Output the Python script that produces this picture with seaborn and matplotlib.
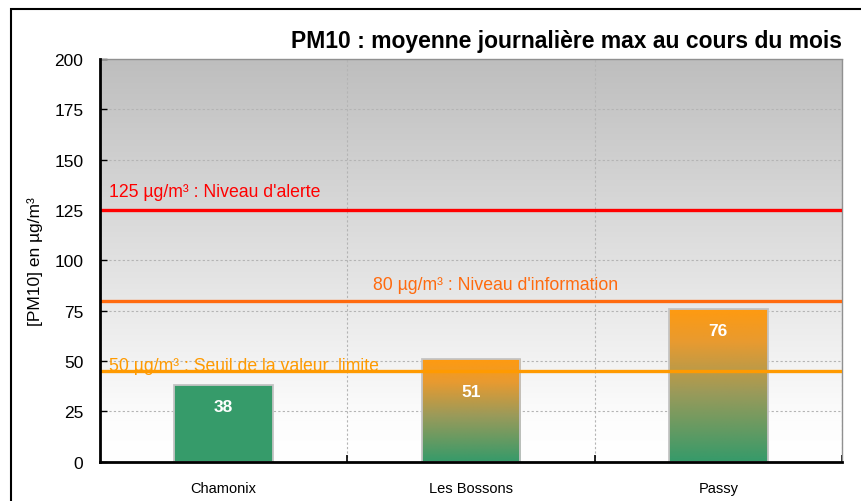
import numpy as np
import matplotlib
matplotlib.use("Agg")
import matplotlib.pyplot as plt
import seaborn as sns
import pandas as pd
from matplotlib.colors import LinearSegmentedColormap
from matplotlib.patches import Rectangle

# ---- data ----
stations = ["Chamonix", "Les Bossons", "Passy"]
values = [38, 51, 76]
threshold_values = [125, 80, 45]
threshold_labels = ["125 µg/m³ : Niveau d'alerte",
                    "80 µg/m³ : Niveau d'information",
                    "50 µg/m³ : Seuil de la valeur  limite"]
limit_value = 50
title = "PM10 : moyenne journalière max au cours du mois"
ylabel = "[PM10] en µg/m³"
yticks = list(range(0, 201, 25))

# ---- style ----
sns.set_style("white")
plt.rcParams['font.family'] = ['Liberation Sans', 'DejaVu Sans']
plt.rcParams['text.color'] = 'black'
plt.rcParams['axes.labelcolor'] = 'black'
plt.rcParams['xtick.color'] = 'black'
plt.rcParams['ytick.color'] = 'black'

threshold_colors = ["#ff0000", "#ff6a0e", "#ff9a00"]
label_x = [0.012, 0.3675, 0.012]
label_dy = [13, 11.3, 4]
green = "#369b6a"

fig = plt.figure(figsize=(8.61, 5.02), dpi=100)
ax = fig.add_axes([100 / 861, 1 - 462.7 / 502, 742 / 861, (462.7 - 60) / 502])

df = pd.DataFrame({"station": stations, "value": values})
sns.barplot(data=df, x="station", y="value", color=green, width=0.4,
            edgecolor="#c4c4c4", linewidth=1.3, saturation=1, errorbar=None,
            ax=ax, zorder=2)

# background gradient
grad = np.linspace(0, 1, 256).reshape(-1, 1)
ax.imshow(grad, extent=[-0.5, 2.5, 0, 200], aspect="auto", origin="lower",
          cmap=LinearSegmentedColormap.from_list("bg", [(0, "#ffffff"), (0.1, "#fdfdfd"), (1, "#bebebe")]),
          zorder=0)

# bar gradients
bar_cmap = LinearSegmentedColormap.from_list(
    "bar", [(0, "#359a6a"), (0.45, "#9a9a5a"), (0.78, "#e89a30"), (1, "#ff9a10")])
for patch, v in zip(ax.patches, values):
    patch.set_zorder(2)
    if v > limit_value:
        x0 = patch.get_x()
        w = patch.get_width()
        im = ax.imshow(grad, extent=[x0, x0 + w, 0, v], aspect="auto", origin="lower",
                       cmap=bar_cmap, zorder=1.9)
        im.set_clip_path(patch)
        patch.set_facecolor("none")

# threshold lines and labels
for tv, tl, tc, lx, dy in zip(threshold_values, threshold_labels, threshold_colors, label_x, label_dy):
    ax.axhline(tv, color=tc, lw=2.4, zorder=3)
    ax.annotate(tl, xy=(lx, tv), xycoords=("axes fraction", "data"),
                xytext=(0, dy), textcoords="offset points", va="center", ha="left",
                color=tc, fontsize=12.7, zorder=4)

# value labels
for i, v in enumerate(values):
    ly = v - 10.7
    for tv in threshold_values:
        if abs(ly - tv) < 7:
            ly = tv - 10
    ax.text(i, ly, f"{v}", ha="center", va="center", color="white",
            fontsize=12.5, fontweight="bold", zorder=5)

ax.set_xlim(-0.5, 2.5)
ax.set_ylim(0, 200)
ax.set_yticks(yticks)
ax.set_xticks([0.5, 1.5, 2.5], minor=True)
ax.set_xlabel("")
ax.set_ylabel(ylabel, fontsize=12.5, labelpad=8, color="black")
ax.tick_params(axis="y", direction="in", length=5, width=1, pad=12, labelsize=12.5,
               left=True, color="black", labelcolor="black")
ax.tick_params(axis="x", which="major", length=0, pad=14, labelsize=10.5, labelcolor="black")
ax.tick_params(axis="x", which="minor", direction="in", length=5, width=1.2, bottom=True, color="black")

ax.set_axisbelow(True)
ax.grid(True, axis="y", which="major", color="#b4b4b4", ls=(0, (2, 2)), lw=0.8)
ax.grid(True, axis="x", which="minor", color="#b4b4b4", ls=(0, (2, 2)), lw=0.8)
ax.grid(False, axis="x", which="major")

for s in ["left", "bottom"]:
    ax.spines[s].set_color("black")
    ax.spines[s].set_linewidth(2)
    ax.spines[s].set_zorder(6)
for s in ["top", "right"]:
    ax.spines[s].set_color("#909090")
    ax.spines[s].set_linewidth(1)
    ax.spines[s].set_linestyle((0, (2, 1)))

ax.set_title(title, loc="right", fontsize=16.5, fontweight="bold", pad=9, color="black")

# outer frame
fig.add_artist(Rectangle((11 / 861, -0.1), 1.2, 1.1 - 10 / 502, transform=fig.transFigure,
                         fill=False, edgecolor="black", lw=1.5))

fig.savefig("out.png", dpi=100)
